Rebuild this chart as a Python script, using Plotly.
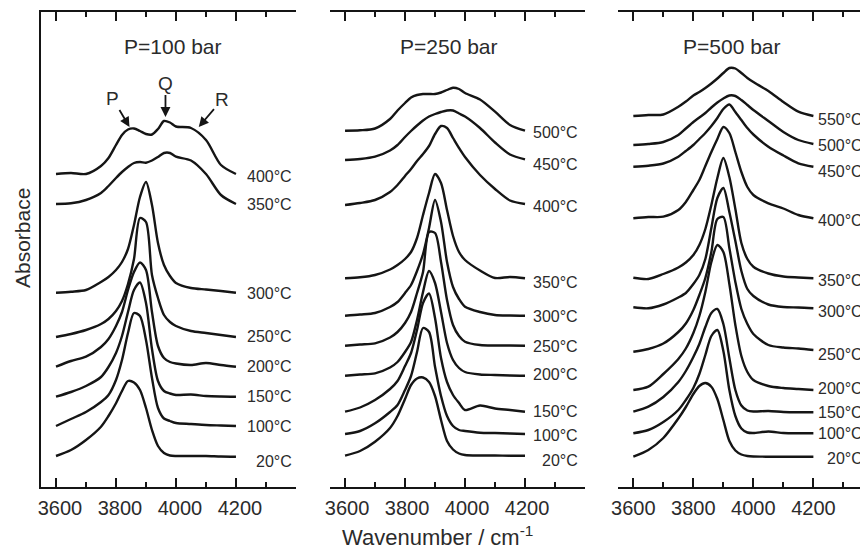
import plotly.graph_objects as go

# ---------------- data (absorbance, arbitrary offset units) ----------------
WN = [3600, 3650, 3700, 3750, 3775, 3800, 3820, 3840, 3860, 3880,
      3900, 3920, 3940, 3960, 3980, 4000, 4050, 4100, 4150, 4200]

p100_temps = [20, 100, 150, 200, 250, 300, 350, 400]
p100_abs = [
    [31, 37, 47, 60.3, 71, 83.7, 96, 106, 104.5, 97, 79, 57, 41, 34, 31.5, 31, 31, 31, 30.5, 30.3],
    [61, 68, 75, 85, 92, 107, 127, 154, 174, 171, 147, 109, 79, 68.5, 66, 64, 63, 62, 61.5, 61],
    [90.3, 95, 101, 110, 120, 134, 151, 175, 197, 204.5, 184, 138, 106, 96, 93.5, 92, 92.5, 91, 90.5, 90.3],
    [120.3, 126, 130.3, 140, 148, 161, 175, 197, 215, 224.5, 217, 175, 141, 129, 125, 123.5, 122, 124, 122, 120.3],
    [150, 153, 157, 163, 168, 176, 186, 203, 228, 269, 265, 212, 189, 172, 165, 161, 156, 154, 152, 150],
    [194.3, 195.3, 197, 205, 210, 217, 225, 238, 262, 290, 305, 282, 244, 222, 211, 204, 199, 197.5, 196, 194.3],
    [283, 283.7, 287, 294, 301, 309, 315, 320, 324, 325, 324.3, 326.5, 330, 334, 334, 330.3, 326.5, 313, 292, 283],
    [313, 314, 313, 321, 329, 342, 352, 357.5, 358.5, 356, 353, 352.5, 358, 366, 364.5, 360.5, 359, 347, 322, 313],
]

p250_temps = [20, 100, 150, 200, 250, 300, 350, 400, 450, 500]
p250_abs = [
    [31.3, 36, 45.3, 59, 71, 88, 102, 108.5, 109.5, 105, 91, 67, 46, 37.5, 33.5, 32, 31.5, 31.5, 31.3, 31.3],
    [53, 56, 63.7, 75, 82, 97, 111, 135, 159, 155, 120.3, 91, 71, 61, 57, 56, 54.3, 54, 53.5, 53],
    [75.3, 79.5, 87, 98, 106, 121, 134, 157, 184, 193.5, 169, 129, 105, 92, 84, 77, 81.5, 78.5, 77, 75.3],
    [111.3, 112.5, 113.7, 119.5, 125, 135, 145, 167, 195, 216, 204, 175, 144, 127, 119, 115, 112.5, 112, 111.5, 111.3],
    [141.3, 142.5, 143.7, 149.5, 155, 164, 175, 194, 215, 255, 254, 225, 187, 162, 151, 145.3, 142, 141.5, 141.5, 141.3],
    [171.3, 172.5, 174, 180, 185, 194, 202, 216, 233, 259, 287, 265, 225, 200, 188, 180.3, 175, 172, 171.5, 171.3],
    [208.7, 209.7, 212, 217.5, 222, 228, 235, 249, 272, 294, 313, 304, 277, 251, 235, 227, 216.5, 209, 210, 208.7],
    [282, 284, 287, 295, 302, 311, 318, 326, 333, 341, 353, 361, 359, 349, 339, 330, 312, 298, 286.5, 283],
    [327, 328, 330.3, 336.5, 342, 350, 356, 361.5, 366.5, 370.5, 373, 375, 376.5, 376.5, 373.5, 370.5, 359, 344.5, 332.5, 327.7],
    [356.3, 356.7, 358.5, 368, 376.5, 384, 389.5, 392, 393, 393, 393, 394.5, 397, 399.3, 398, 394, 387.5, 375.3, 362, 356.3],
]

p500_temps = [20, 100, 150, 200, 250, 300, 350, 400, 450, 500, 550]
p500_abs = [
    [30.3, 37, 49, 68.5, 80, 93, 101, 104, 100.3, 88, 67, 46, 36.5, 32.5, 31, 30.5, 30.3, 30.3, 30.3, 30.3],
    [53.7, 57, 65, 77, 87, 99, 113, 132, 151, 157, 136, 97, 71, 58.5, 54.5, 54, 55.5, 54, 53.7, 53.7],
    [75.3, 80.3, 90, 105, 116, 130, 143, 160, 174, 178, 163, 129, 97, 81.5, 76.5, 75.5, 76, 75, 74.7, 74.7],
    [97, 100.3, 113, 128, 138.5, 154, 171, 195, 225, 242, 235, 203, 162, 131, 115, 107, 101, 99, 98, 97],
    [135.3, 138, 143.5, 155, 163.5, 177, 192, 209, 235, 268, 270, 239, 205, 178, 163, 153, 142, 139.5, 138.5, 137],
    [179.7, 178.7, 182.5, 189.5, 194, 203, 212, 228, 259, 289, 299, 275, 246, 216, 198, 191, 182.5, 180, 179.5, 178.7],
    [209.3, 208, 213, 219.5, 224.5, 232, 242, 258, 282, 309, 329, 310, 278, 244, 228, 220.3, 213.5, 210.5, 209.5, 208.7],
    [268.7, 270, 270.3, 277, 285, 297, 307, 321, 335, 348, 360, 354, 335, 315, 300, 292, 283.7, 278.5, 272, 268.7],
    [320.3, 321.3, 323.5, 330.3, 336, 342, 348, 354, 361, 369, 378, 382.5, 375, 367, 359, 352.5, 340.3, 331.5, 323.7, 320.3],
    [342, 343, 345, 352, 358.5, 365, 369.5, 374, 379.5, 384.5, 388.5, 391.5, 391, 387, 382, 377, 366, 355, 347, 343],
    [371, 372, 372.5, 380.3, 385.5, 391.5, 395, 399, 403.5, 408.5, 414, 419, 418.5, 414, 409, 405, 396, 385, 375.3, 371],
]

panel_titles = ["P=100 bar", "P=250 bar", "P=500 bar"]
tick_vals = [3600, 3800, 4000, 4200]
tick_text = ["3600", "3800", "4000", "4200"]
minor_vals = [3700, 3900, 4100, 4300]

# ---------------- layout helpers (positions / styles) ----------------
FONT = "Liberation Sans, Arial, Helvetica, sans-serif"
INK = "#151515"
TXT = "#2b2b2b"

label_y = {
    "x": [25.3, 61, 90.3, 120.3, 151, 194, 283, 310.3],
    "x2": [27, 51.3, 75.3, 113, 140.3, 170.3, 204.7, 280.3, 323, 354.3],
    "x3": [28.7, 53.7, 74.3, 98.7, 133, 175.3, 206.3, 267, 315.3, 341.3, 368],
}
label_x = {"x": 4395, "x2": 4385, "x3": 4372}
title_x = {"x": 3990, "x2": 3945, "x3": 3928}

fig = go.Figure()
panels = [(p100_temps, p100_abs, "x", "y"),
          (p250_temps, p250_abs, "x2", "y2"),
          (p500_temps, p500_abs, "x3", "y3")]

annotations = []
for (temps, spectra, xa, ya), title in zip(panels, panel_titles):
    for t, s, ly in zip(temps, spectra, label_y[xa]):
        fig.add_trace(go.Scatter(
            x=WN, y=s, xaxis=xa, yaxis=ya, mode="lines",
            line=dict(color=INK, width=2.4, shape="spline", smoothing=0.8),
            showlegend=False, hoverinfo="skip"))
        annotations.append(dict(
            x=label_x[xa], y=ly, xref=xa, yref=ya, text=f"{t}°C",
            showarrow=False, xanchor="right", yanchor="middle",
            font=dict(family=FONT, size=16, color=TXT)))
    annotations.append(dict(
        x=title_x[xa], y=441, xref=xa, yref=ya, text=title, showarrow=False,
        xanchor="center", yanchor="middle",
        font=dict(family=FONT, size=21, color=TXT)))

# P, Q, R band labels with arrows (P=100 bar, 400 °C spectrum):
# text sits at the arrow tail, arrow head points at the band
for txt, tx, ty, hx, hy in [
        ("P", 3788, 389, 3845, 360),
        ("Q", 3965, 404, 3965, 370),
        ("R", 4155, 388, 4076, 360)]:
    annotations.append(dict(x=hx, y=hy, ax=tx, ay=ty, xref="x", yref="y",
                            axref="x", ayref="y", text=txt, showarrow=True,
                            arrowhead=2, arrowsize=1.1, arrowwidth=1.8,
                            arrowcolor=INK, standoff=0,
                            font=dict(family=FONT, size=19, color=TXT)))

# page body has an 8px margin: figure is offset by 8px in x and y
annotations.append(dict(x=-0.0225, y=0.525, xref="paper", yref="paper",
                        text="Absorbace", textangle=-90, showarrow=False,
                        xanchor="center", yanchor="middle",
                        font=dict(family=FONT, size=21, color=TXT)))
annotations.append(dict(x=0.479, y=-0.103, xref="paper", yref="paper",
                        text="Wavenumber / cm<sup>-1</sup>", showarrow=False,
                        xanchor="center", yanchor="middle",
                        font=dict(family=FONT, size=22, color=TXT)))


def xaxis(domain, rng, shift):
    return dict(domain=domain, range=rng, showline=True, linecolor=INK,
                linewidth=1.6, mirror="ticks", ticks="inside", ticklen=9,
                tickwidth=1.6, tickcolor=INK, tickvals=tick_vals,
                ticktext=tick_text, showgrid=False, zeroline=False,
                tickfont=dict(family=FONT, size=20, color=TXT),
                ticklabelstandoff=2, ticklabelshift=shift,
                minor=dict(tickvals=minor_vals, ticks="inside", ticklen=5,
                           tickwidth=1.6, tickcolor=INK, showgrid=False),
                fixedrange=True)


def yaxis(anchor, line):
    return dict(domain=[0, 1], range=[0, 475], anchor=anchor, showline=line,
                linecolor=INK, linewidth=1.6, mirror=False, ticks="",
                showticklabels=False, showgrid=False, zeroline=False,
                fixedrange=True)


fig.update_layout(
    width=860, height=544, margin=dict(l=33, r=0, t=4, b=65),
    paper_bgcolor="white", plot_bgcolor="white",
    xaxis=xaxis([0, 0.3083], [3550, 4400], 4),
    xaxis2=xaxis([0.3495, 0.6578], [3550, 4400], 2),
    xaxis3=xaxis([0.6981, 1], [3550, 4382], 0),
    yaxis=yaxis("x", True),
    yaxis2=yaxis("x2", False),
    yaxis3=yaxis("x3", False),
    annotations=annotations,
    font=dict(family=FONT, color=TXT),
)

fig.write_html("out.html")
